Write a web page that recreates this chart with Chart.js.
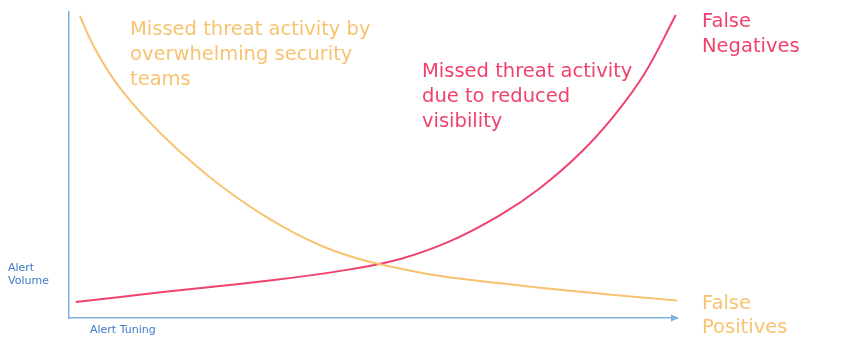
<!DOCTYPE html>
<html>
<head>
<meta charset="utf-8">
<script src="https://cdn.jsdelivr.net/npm/chart.js@4"></script>
<style>
  html, body { margin: 0; padding: 0; background: #fff; }
  #wrap { width: 846px; height: 352px; position: relative; }
</style>
</head>
<body>
<div id="wrap"><canvas id="grafico"></canvas></div>
<script>
// alert tuning (0-100) vs alert volume (0-100)
const tuningFP = [1.8, 3.6, 5.3, 6.9, 8.5, 11.8, 15.6, 18.4, 22.8, 27.1, 31.5, 36.9, 42.5, 47.9, 51.7, 61.1, 72.1, 82.9, 100];
const volumeFP = [98.7, 90.6, 84.4, 79.3, 74.9, 67.1, 59.3, 54.1, 46.6, 40.1, 34.2, 28.0, 22.8, 19.2, 17.3, 13.7, 11.1, 8.8, 5.7];

const tuningFN = [1.1, 15.1, 31.5, 44.7, 54.5, 62.7, 70.9, 77.5, 84.1, 89.8, 94.7, 99.8];
const volumeFN = [5.2, 8.4, 11.9, 15.4, 19.3, 25.1, 33.6, 42.5, 53.9, 66.5, 80.0, 99.0];

const laranja = '#F7C370';
const rosa = '#F0426C';
const azulEixo = '#7FB0DE';
const azulTexto = '#3C7CC6';
const fonte = '"DejaVu Sans", sans-serif';

function pontos(xs, ys) {
  return xs.map((x, i) => ({ x: x, y: ys[i] }));
}

// textos e seta do eixo x
const anotacoes = {
  id: 'anotacoes',
  afterDraw(chart) {
    const ctx = chart.ctx;
    const xs = chart.scales.x;
    const ys = chart.scales.y;
    const y0 = ys.getPixelForValue(0);
    const xFim = xs.getPixelForValue(100);

    ctx.save();
    ctx.fillStyle = azulEixo;
    ctx.beginPath();
    ctx.moveTo(xFim + 2, y0);
    ctx.lineTo(xFim - 6, y0 - 3.5);
    ctx.lineTo(xFim - 6, y0 + 3.5);
    ctx.closePath();
    ctx.fill();

    ctx.textBaseline = 'alphabetic';
    ctx.textAlign = 'left';

    ctx.fillStyle = laranja;
    ctx.font = '19.5px ' + fonte;
    ['Missed threat activity by', 'overwhelming security', 'teams'].forEach((t, i) => {
      ctx.fillText(t, 130, 35 + i * 25);
    });
    ['False', 'Positives'].forEach((t, i) => {
      ctx.fillText(t, 702, 309 + i * 24);
    });

    ctx.fillStyle = rosa;
    ['Missed threat activity', 'due to reduced', 'visibility'].forEach((t, i) => {
      ctx.fillText(t, 422, 77 + i * 25);
    });
    ['False', 'Negatives'].forEach((t, i) => {
      ctx.fillText(t, 702, 27 + i * 25);
    });

    ctx.fillStyle = azulTexto;
    ctx.font = '11px ' + fonte;
    ctx.fillText('Alert', 8, 271);
    ctx.fillText('Volume', 8, 284);
    ctx.fillText('Alert Tuning', 90, 333);
    ctx.restore();
  }
};

new Chart(document.getElementById('grafico'), {
  type: 'scatter',
  data: {
    datasets: [
      {
        label: 'False Positives',
        data: pontos(tuningFP, volumeFP),
        showLine: true,
        borderColor: laranja,
        borderWidth: 2,
        pointRadius: 0,
        tension: 0.4
      },
      {
        label: 'False Negatives',
        data: pontos(tuningFN, volumeFN),
        showLine: true,
        borderColor: rosa,
        borderWidth: 2,
        pointRadius: 0,
        tension: 0.4
      }
    ]
  },
  options: {
    responsive: true,
    maintainAspectRatio: false,
    animation: false,
    layout: { padding: { left: 61, right: 169, top: 12, bottom: 26 } },
    plugins: {
      legend: { display: false },
      tooltip: { enabled: false }
    },
    scales: {
      x: {
        type: 'linear',
        min: 0,
        max: 100,
        ticks: { display: false },
        grid: { display: false },
        border: { display: true, color: azulEixo, width: 1.5 }
      },
      y: {
        min: 0,
        max: 100,
        ticks: { display: false },
        grid: { display: false },
        border: { display: true, color: azulEixo, width: 1.5 }
      }
    }
  },
  plugins: [anotacoes]
});
</script>
</body>
</html>
